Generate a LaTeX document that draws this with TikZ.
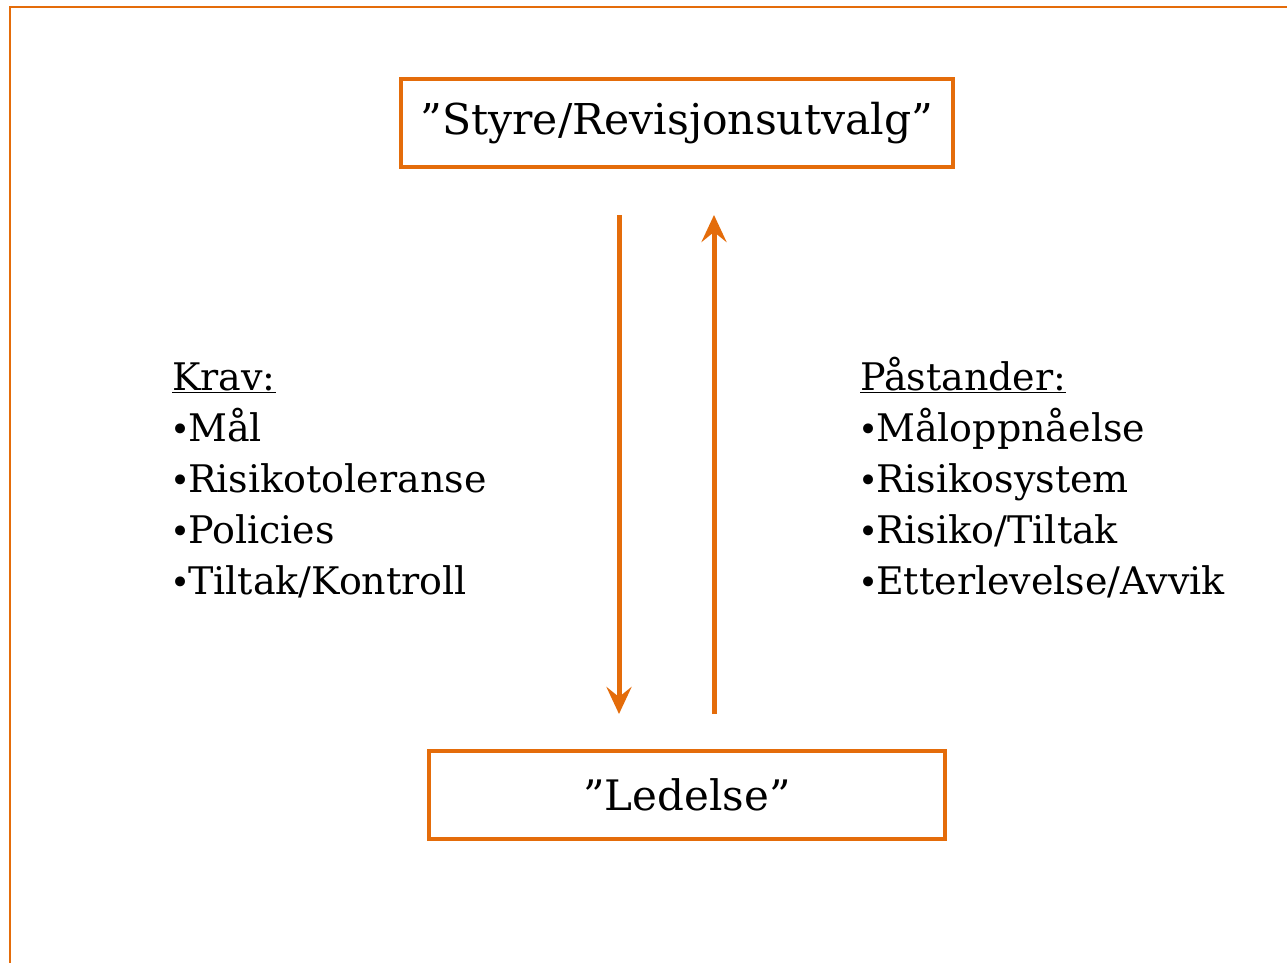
\documentclass[tikz,border=0pt]{standalone}
\usepackage{fontspec}
\setmainfont{DejaVu Serif}
\usetikzlibrary{arrows.meta}
\definecolor{accent}{RGB}{228,108,10}
\newcommand{\bul}{\makebox[18pt][l]{\fontsize{34}{34}\selectfont•}}
\tikzset{
  box/.style={draw=accent, line width=4.5pt, minimum width=552pt, minimum height=88pt, inner sep=0pt, font=\fontsize{42.5}{50}\selectfont},
  item/.style={anchor=base west, inner sep=0pt, font=\fontsize{38}{46}\selectfont},
  flow/.style={draw=accent, line width=5pt, -{Stealth[length=27pt,width=25pt,inset=10pt]}},
  frame/.style={draw=accent, line width=2.5pt}
}
\begin{document}
\begin{tikzpicture}[x=1pt,y=-1pt]
\useasboundingbox (0,0) rectangle (1287,963);
\fill[white] (0,0) rectangle (1287,963);
\draw[frame] (10,965) -- (10,7) -- (1290,7);
\node[box] (styre) at (677,123) {”Styre/Revisjonsutvalg”};
\node[box, minimum width=516pt, font=\fontsize{42}{50}\selectfont] (ledelse) at (687,795) {”Ledelse”};
\coordinate (dtop) at (619,215);
\coordinate (dbot) at (619,714);
\coordinate (utop) at (714,215);
\coordinate (ubot) at (714,714);
\draw[flow] (dtop) -- (dbot);
\draw[flow] (ubot) -- (utop);
\node[item] (krav) at (172,390) {\underline{Krav:}};
\node[item] (k1) at (170,441) {\bul Mål};
\node[item] (k2) at (170,492) {\bul Risikotoleranse};
\node[item] (k3) at (170,543) {\bul Policies};
\node[item] (k4) at (170,594) {\bul Tiltak/Kontroll};
\node[item] (pa) at (860,390) {\underline{Påstander:}};
\node[item] (p1) at (858,441) {\bul Måloppnåelse};
\node[item] (p2) at (858,492) {\bul Risikosystem};
\node[item] (p3) at (858,543) {\bul Risiko/Tiltak};
\node[item] (p4) at (858,594) {\bul Etterlevelse/Avvik};
\end{tikzpicture}
\end{document}
